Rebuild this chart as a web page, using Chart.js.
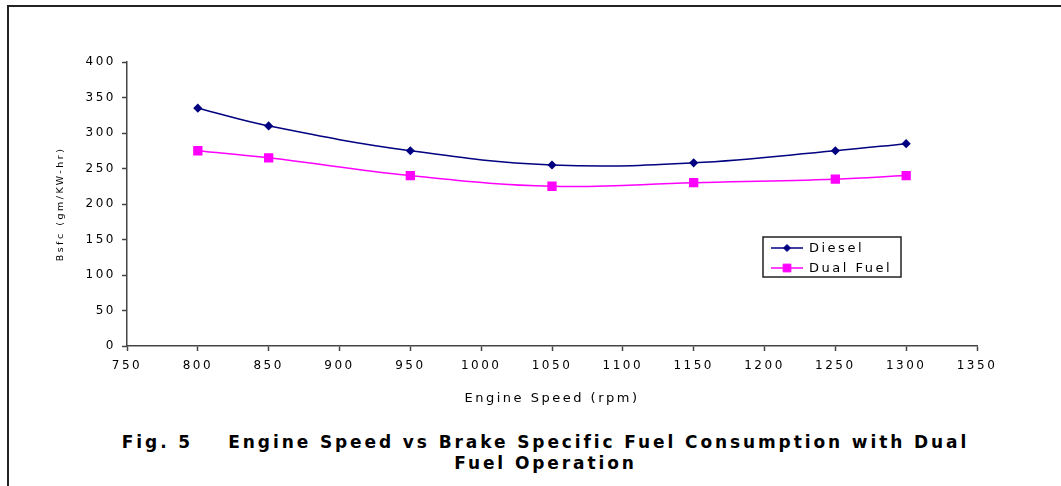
<!DOCTYPE html>
<html>
<head>
<meta charset="utf-8">
<script src="https://cdn.jsdelivr.net/npm/chart.js@4/dist/chart.umd.min.js"></script>
<style>
  body { margin: 0; background: #fff; width: 1061px; height: 486px; overflow: hidden; position: relative; font-family: "DejaVu Sans", sans-serif; }
  .frame { position: absolute; left: 7px; top: 5px; right: -5px; bottom: -5px; border-left: 2px solid #222; border-top: 2px solid #222; }
  .box { position: absolute; left: 8px; top: 6px; width: 1053px; height: 410px; }
  .caption { position: absolute; left: 0; width: 1091px; top: 432px; text-align: center; font-family: "DejaVu Sans", sans-serif; font-weight: bold; font-size: 17px; letter-spacing: 2.9px; line-height: 21px; color: #000; }
</style>
</head>
<body>
<div class="frame"></div>
<div class="box"><canvas id="myChart"></canvas></div>
<div class="caption">Fig. 5&nbsp;&nbsp;&nbsp; Engine Speed vs Brake Specific Fuel Consumption with Dual<br>Fuel Operation</div>
<script>
// engine speed (rpm)
const speeds = [800, 850, 950, 1050, 1150, 1250, 1300];
// bsfc (gm/KW-hr)
const diesel = [335, 310, 275, 255, 258, 275, 285];
const dualFuel = [275, 265, 240, 225, 230, 235, 240];

const xMin = 750, xMax = 1350, xStep = 50;
const yMin = 0, yMax = 400, yStep = 50;

function points(values) {
  return speeds.map((s, i) => ({ x: s, y: values[i] }));
}

// the original text is widely spaced
const spacing = {
  id: "spacing",
  beforeDraw(chart) {
    chart.ctx.letterSpacing = "2.5px";
  }
};

// legend drawn inside the plot, like the original
const boxLegend = {
  id: "boxLegend",
  afterDraw(chart) {
    let ctx = chart.ctx;
    let x = 755, y = 231, w = 138, h = 40;
    ctx.save();
    ctx.fillStyle = "#fff";
    ctx.fillRect(x, y, w, h);
    ctx.strokeStyle = "#222";
    ctx.lineWidth = 1.5;
    ctx.strokeRect(x, y, w, h);
    chart.data.datasets.forEach((ds, i) => {
      let cy = y + 11 + i * 20;
      ctx.strokeStyle = ds.borderColor;
      ctx.lineWidth = 1.5;
      ctx.beginPath();
      ctx.moveTo(x + 8, cy);
      ctx.lineTo(x + 40, cy);
      ctx.stroke();
      ctx.fillStyle = ds.pointBackgroundColor;
      ctx.strokeStyle = ds.pointBorderColor;
      ctx.lineWidth = 1;
      Chart.helpers.drawPoint(ctx, {
        pointStyle: ds.pointStyle,
        radius: ds.pointRadius,
        borderWidth: 1
      }, x + 24, cy);
      ctx.fillStyle = "#000";
      ctx.letterSpacing = "2.5px";
      ctx.font = "13px 'DejaVu Sans', sans-serif";
      ctx.textBaseline = "middle";
      ctx.fillText(ds.label, x + 46, cy + 1);
    });
    ctx.restore();
  }
};

let ctx = document.getElementById("myChart");
let tickFont = { size: 12, family: "'DejaVu Sans', sans-serif" };

let myChart = new Chart(ctx, {
  type: "line",
  data: {
    datasets: [
      {
        label: "Diesel",
        data: points(diesel),
        borderColor: "#000080",
        backgroundColor: "#000080",
        pointBackgroundColor: "#000080",
        pointBorderColor: "#000080",
        pointStyle: "rectRot",
        pointRadius: 3.5,
        borderWidth: 1.5,
        tension: 0.4,
      },
      {
        label: "Dual Fuel",
        data: points(dualFuel),
        borderColor: "#ff00ff",
        backgroundColor: "#ff00ff",
        pointBackgroundColor: "#ff00ff",
        pointBorderColor: "#ff00ff",
        pointStyle: "rect",
        pointRadius: 5.5,
        borderWidth: 1.5,
        tension: 0.4,
      },
    ],
  },
  options: {
    responsive: true,
    maintainAspectRatio: false,
    animation: false,
    layout: { padding: { top: 56, right: 84, left: 47, bottom: 8 } },
    plugins: {
      legend: { display: false },
      tooltip: { enabled: false },
    },
    scales: {
      x: {
        type: "linear",
        min: xMin,
        max: xMax,
        ticks: { stepSize: xStep, color: "#000", font: tickFont, padding: 8, callback: (v) => String(v) },
        grid: { drawOnChartArea: false, color: "#444", tickLength: 5, tickWidth: 1.5 },
        border: { color: "#444", width: 1.5 },
        title: { display: true, text: "Engine Speed (rpm)", color: "#000", font: { size: 13, family: "'DejaVu Sans', sans-serif" }, padding: { top: 4, bottom: 2 } },
        afterFit(scale) { scale.height = 62; },
      },
      y: {
        min: yMin,
        max: yMax,
        ticks: { stepSize: yStep, color: "#000", font: tickFont, padding: 6 },
        grid: { drawOnChartArea: false, color: "#444", tickLength: 5, tickWidth: 1.5 },
        border: { color: "#444", width: 1.5 },
        title: { display: true, text: "Bsfc (gm/KW-hr)", color: "#000", font: { size: 9.5, family: "'DejaVu Sans', sans-serif" }, padding: 0 },
        afterFit(scale) { scale.width = 72; },
      },
    },
  },
  plugins: [spacing, boxLegend],
});
</script>
</body>
</html>
